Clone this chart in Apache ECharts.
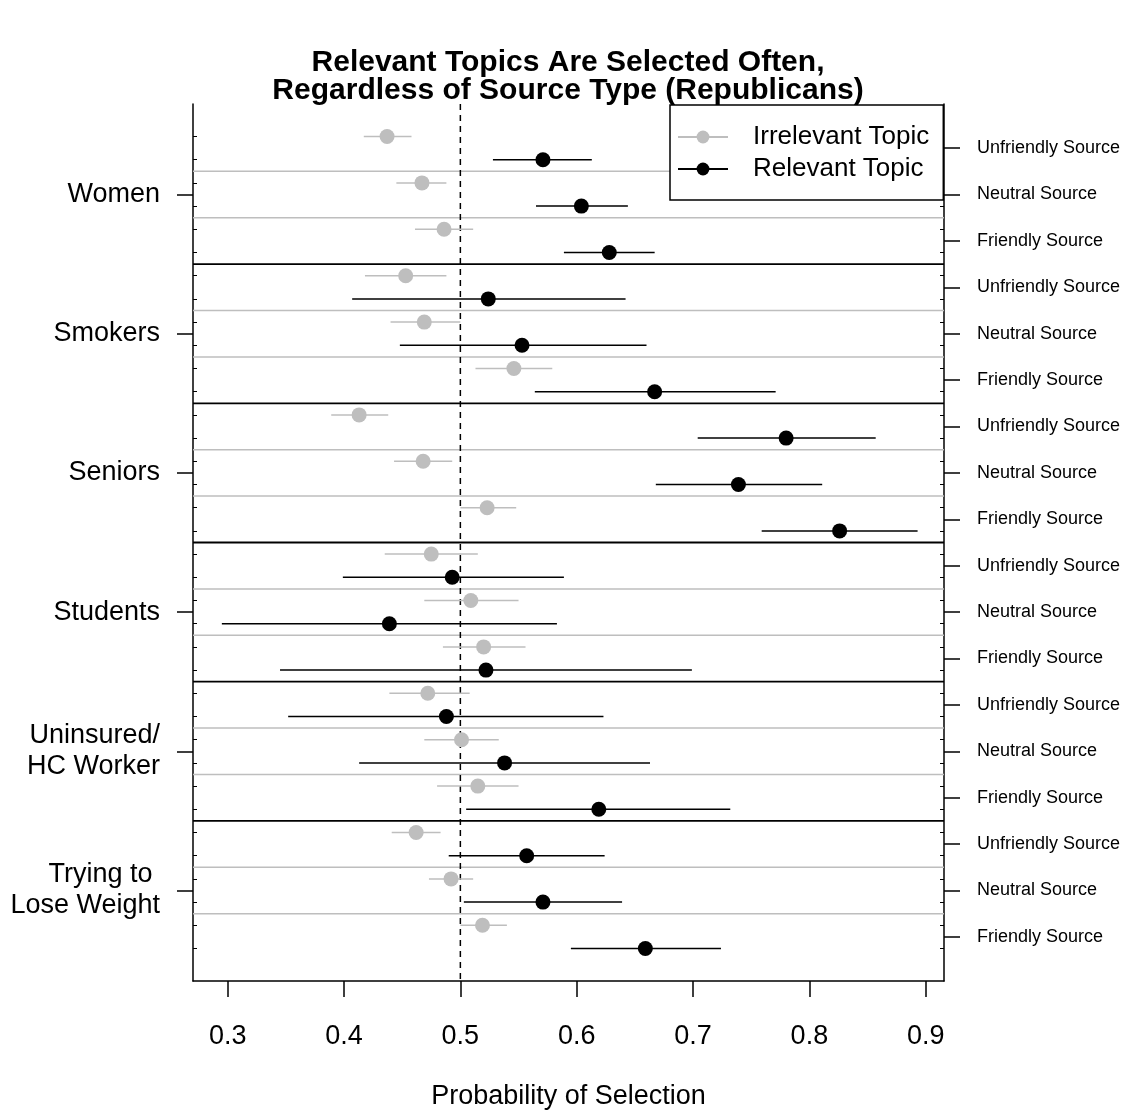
<!DOCTYPE html>
<html><head><meta charset="utf-8">
<script src="https://cdn.jsdelivr.net/npm/echarts@6/dist/echarts.min.js"></script>
<style>html,body{margin:0;padding:0;background:#fff}#c{width:1125px;height:1115px}</style>
</head><body><div id="c"></div>
<script>
// ---- data ----
const groups = ['Women', 'Smokers', 'Seniors', 'Students', 'Uninsured/\nHC Worker', 'Trying to \nLose Weight'];
const sources = ['Unfriendly Source', 'Neutral Source', 'Friendly Source'];

// order: group by group, within group Unfriendly, Neutral, Friendly
const irrelevantEst = [0.437, 0.467, 0.486, 0.453, 0.469, 0.546, 0.413, 0.468, 0.523, 0.475, 0.509, 0.520, 0.472, 0.501, 0.515, 0.462, 0.492, 0.519];
const irrelevantLo  = [0.417, 0.445, 0.461, 0.418, 0.440, 0.513, 0.389, 0.443, 0.500, 0.435, 0.469, 0.485, 0.439, 0.469, 0.480, 0.441, 0.473, 0.500];
const irrelevantHi  = [0.458, 0.488, 0.511, 0.488, 0.500, 0.579, 0.438, 0.493, 0.548, 0.515, 0.550, 0.556, 0.508, 0.533, 0.550, 0.483, 0.511, 0.540];

const relevantEst = [0.571, 0.604, 0.628, 0.524, 0.553, 0.667, 0.780, 0.739, 0.826, 0.493, 0.439, 0.522, 0.488, 0.538, 0.619, 0.557, 0.571, 0.659];
const relevantLo  = [0.528, 0.565, 0.589, 0.407, 0.448, 0.564, 0.704, 0.668, 0.759, 0.399, 0.295, 0.345, 0.352, 0.413, 0.505, 0.490, 0.503, 0.595];
const relevantHi  = [0.613, 0.644, 0.667, 0.642, 0.660, 0.771, 0.857, 0.811, 0.893, 0.589, 0.583, 0.699, 0.623, 0.663, 0.732, 0.624, 0.639, 0.724];

const xTicks = [0.3, 0.4, 0.5, 0.6, 0.7, 0.8, 0.9];
const referenceValue = 0.5;
const xMin = 0.2702, xMax = 0.9157;

// ---- layout helpers (positions on the y scale: one slot per point) ----
const FONT = '"Liberation Sans", Arial, Helvetica, sans-serif';
const GRAY = '#bebebe';
const nSrc = sources.length;
const nRows = groups.length * nSrc;
const perGroup = 2 * nSrc;
const pos = (row, which) => 2 * row + 1 + which;   // which: 0 irrelevant, 1 relevant
const yMin = 1 - 0.04 * (2 * nRows - 1), yMax = 2 * nRows + 0.04 * (2 * nRows - 1);

const irrPts = irrelevantEst.map((v, i) => [v, pos(i, 0)]);
const relPts = relevantEst.map((v, i) => [v, pos(i, 1)]);
const irrCI = irrelevantLo.map((lo, i) => [lo, irrelevantHi[i], pos(i, 0)]);
const relCI = relevantLo.map((lo, i) => [lo, relevantHi[i], pos(i, 1)]);

const groupCenters = groups.map((g, i) => perGroup * i + (perGroup + 1) / 2);
const rowCenters = Array.from({length: nRows}, (_, r) => 2 * r + 1.5);
const pointSlots = Array.from({length: 2 * nRows}, (_, i) => i + 1);
const graySeps = [], blackSeps = [];
groups.forEach((g, gi) => {
  for (let s = 1; s < nSrc; s++) graySeps.push([perGroup * gi + 2 * s + 0.5]);
  if (gi < groups.length - 1) blackSeps.push([perGroup * (gi + 1) + 0.5]);
});

function ciRender(color) {
  return function (params, api) {
    const a = api.coord([api.value(0), api.value(2)]);
    const b = api.coord([api.value(1), api.value(2)]);
    return {type: 'line', shape: {x1: a[0], y1: a[1], x2: b[0], y2: b[1]},
            style: {stroke: color, lineWidth: 1.5}};
  };
}
function hRender(color, w) {
  return function (params, api) {
    const cs = params.coordSys;
    const y = api.coord([xMin, api.value(0)])[1];
    return {type: 'line', shape: {x1: cs.x, y1: y, x2: cs.x + cs.width, y2: y},
            style: {stroke: color, lineWidth: w}};
  };
}
function vRender(params, api) {
  const cs = params.coordSys;
  const x = api.coord([api.value(0), yMin])[0];
  return {type: 'line', shape: {x1: x, y1: cs.y, x2: x, y2: cs.y + cs.height},
          style: {stroke: '#000', lineWidth: 1.5, lineDash: [6, 5]}};
}

const axisLineStyle = {color: '#000', width: 1.5};
const chart = echarts.init(document.getElementById('c'), null, {renderer: 'canvas'});
chart.setOption({
  animation: false,
  backgroundColor: '#fff',
  title: {
    text: 'Relevant Topics Are Selected Often,\nRegardless of Source Type (Republicans)',
    left: 568, textAlign: 'center', top: 49, padding: 0,
    textStyle: {fontSize: 30, fontWeight: 'bold', fontFamily: FONT, color: '#000', lineHeight: 28}
  },
  legend: {
    orient: 'vertical', left: 670, top: 105, selectedMode: false, z: 10,
    data: [
      {name: 'Irrelevant Topic', lineStyle: {color: GRAY, width: 2, opacity: 1}},
      {name: 'Relevant Topic', lineStyle: {color: '#000', width: 2, opacity: 1}}
    ],
    itemWidth: 50, itemHeight: 16, itemGap: 2,
    padding: [17, 14, 16, 7],
    backgroundColor: '#fff', borderColor: '#000', borderWidth: 1.5, borderRadius: 0,
    textStyle: {fontSize: 26, fontFamily: FONT, color: '#000', lineHeight: 30, padding: [0, 0, 0, 20]}
  },
  grid: {left: 193, right: 181, top: 104, bottom: 130, containLabel: false},
  xAxis: {
    type: 'value', min: xMin, max: xMax,
    axisLine: {show: true, onZero: false, lineStyle: axisLineStyle},
    axisTick: {show: true, customValues: xTicks, length: 16, lineStyle: axisLineStyle},
    axisLabel: {customValues: xTicks, formatter: v => v.toFixed(1), fontSize: 27, fontFamily: FONT, color: '#000', margin: 42},
    splitLine: {show: false},
    name: 'Probability of Selection', nameLocation: 'middle', nameGap: 102,
    nameTextStyle: {fontSize: 27, fontFamily: FONT, color: '#000'}
  },
  yAxis: [
    {
      type: 'value', position: 'left', inverse: true, min: yMin, max: yMax,
      axisLine: {show: true, onZero: false, lineStyle: axisLineStyle},
      axisTick: {show: true, customValues: groupCenters, length: 16, lineStyle: axisLineStyle},
      axisLabel: {customValues: groupCenters, formatter: v => groups[Math.round((v - groupCenters[0]) / perGroup)],
                  fontSize: 27, fontFamily: FONT, color: '#000', margin: 33, lineHeight: 31, padding: [5, 0, 0, 0]},
      splitLine: {show: false}
    },
    {
      type: 'value', position: 'left', inverse: true, min: yMin, max: yMax,
      axisLine: {show: false},
      axisTick: {show: true, inside: true, customValues: pointSlots, length: 4, lineStyle: {color: '#000', width: 1}},
      axisLabel: {show: false}, splitLine: {show: false}
    },
    {
      type: 'value', position: 'right', inverse: true, min: yMin, max: yMax,
      axisLine: {show: true, onZero: false, lineStyle: axisLineStyle},
      axisTick: {show: true, customValues: rowCenters, length: 16, lineStyle: axisLineStyle},
      axisLabel: {customValues: rowCenters, formatter: v => sources[Math.round((v - 1.5) / 2) % nSrc],
                  fontSize: 18, fontFamily: FONT, color: '#000', margin: 33, padding: [5, 0, 0, 0]},
      splitLine: {show: false}
    },
    {
      type: 'value', position: 'right', inverse: true, min: yMin, max: yMax,
      axisLine: {show: false},
      axisTick: {show: true, inside: true, customValues: pointSlots, length: 4, lineStyle: {color: '#000', width: 1}},
      axisLabel: {show: false}, splitLine: {show: false}
    }
  ],
  series: [
    {name: 'rowSeparators', type: 'custom', silent: true, z: 1, data: graySeps, encode: {y: 0}, renderItem: hRender(GRAY, 1.5)},
    {name: 'groupSeparators', type: 'custom', silent: true, z: 1, data: blackSeps, encode: {y: 0}, renderItem: hRender('#000', 1.8)},
    {name: 'reference', type: 'custom', silent: true, z: 2, data: [[referenceValue]], encode: {x: 0}, renderItem: vRender},
    {name: 'irrCI', type: 'custom', silent: true, z: 3, data: irrCI, encode: {x: [0, 1], y: 2}, renderItem: ciRender(GRAY)},
    {name: 'relCI', type: 'custom', silent: true, z: 3, data: relCI, encode: {x: [0, 1], y: 2}, renderItem: ciRender('#000')},
    {name: 'Irrelevant Topic', type: 'line', silent: true, z: 4, data: irrPts, symbol: 'circle', symbolSize: 15,
     showSymbol: true, lineStyle: {opacity: 0}, itemStyle: {color: GRAY, opacity: 1}},
    {name: 'Relevant Topic', type: 'line', silent: true, z: 4, data: relPts, symbol: 'circle', symbolSize: 15,
     showSymbol: true, lineStyle: {opacity: 0}, itemStyle: {color: '#000', opacity: 1}}
  ]
});
</script></body></html>
